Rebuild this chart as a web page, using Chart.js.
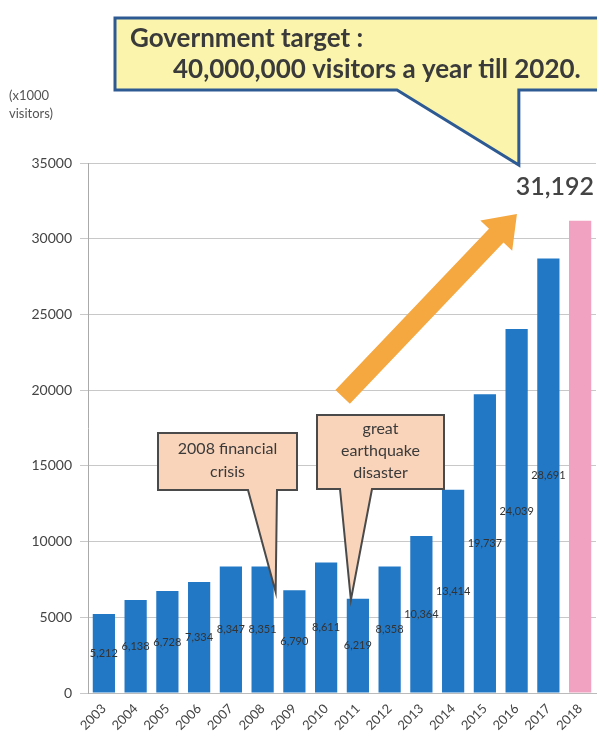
<!DOCTYPE html>
<html>
<head>
<meta charset="utf-8">
<script src="https://cdn.jsdelivr.net/npm/chart.js@4"></script>
<style>
  html, body { margin: 0; padding: 0; background: #fff; }
  #wrap { width: 597px; height: 740px; position: relative; }
</style>
</head>
<body>
<div id="wrap"><canvas id="visitorsChart"></canvas></div>
<script>
  // data (x1000 visitors)
  const years = ['2003', '2004', '2005', '2006', '2007', '2008', '2009', '2010',
                 '2011', '2012', '2013', '2014', '2015', '2016', '2017', '2018'];
  const visitors = [5212, 6138, 6728, 7334, 8347, 8351, 6790, 8611,
                    6219, 8358, 10364, 13414, 19737, 24039, 28691, 31192];
  const barColors = years.map((y, i) => i === years.length - 1 ? '#F0A2C0' : '#2378C5');
  const yTicks = [0, 5000, 10000, 15000, 20000, 25000, 30000, 35000];

  const FONT = 'Lato, "Open Sans", sans-serif';

  // callouts: box in pixels, tail tip in data units (category index, value)
  const callouts = [
    { lines: ['2008 financial', 'crisis'], box: [158, 433, 297, 490], tail: [248, 277], tip: [5.41, 6670], lh: 23 },
    { lines: ['great', 'earthquake', 'disaster'], box: [317, 415, 444, 489], tail: [340, 372], tip: [7.78, 6140], lh: 22 }
  ];

  function drawCallout(ctx, c, xs, ys) {
    const [l, t, r, b] = c.box;
    const tx = xs.getPixelForValue(c.tip[0]);
    const ty = ys.getPixelForValue(c.tip[1]);
    ctx.beginPath();
    ctx.moveTo(l, t);
    ctx.lineTo(r, t);
    ctx.lineTo(r, b);
    ctx.lineTo(c.tail[1], b);
    ctx.lineTo(tx, ty);
    ctx.lineTo(c.tail[0], b);
    ctx.lineTo(l, b);
    ctx.closePath();
    ctx.fillStyle = '#F9D4BA';
    ctx.fill();
    ctx.lineWidth = 2;
    ctx.strokeStyle = '#4a4a4a';
    ctx.stroke();
    ctx.fillStyle = '#3a3a3a';
    ctx.font = '16px ' + FONT;
    ctx.textAlign = 'center';
    ctx.textBaseline = 'middle';
    const cy = (t + b) / 2 - 1;
    c.lines.forEach((s, i) => {
      ctx.fillText(s, (l + r) / 2, cy + (i - (c.lines.length - 1) / 2) * c.lh);
    });
  }

  const decorations = {
    id: 'decorations',
    afterDatasetsDraw(chart) {
      const ctx = chart.ctx;
      const xs = chart.scales.x;
      const ys = chart.scales.y;
      const meta = chart.getDatasetMeta(0);
      ctx.save();

      // value labels inside the bars, at half height
      ctx.font = '11px ' + FONT;
      ctx.fillStyle = '#333';
      ctx.textAlign = 'center';
      ctx.textBaseline = 'middle';
      meta.data.forEach((bar, i) => {
        if (i === visitors.length - 1) return;
        ctx.fillText(visitors[i].toLocaleString('en-US'), bar.x, ys.getPixelForValue(visitors[i] / 2));
      });

      // last year value above the pink bar
      const n = visitors.length - 1;
      const last = meta.data[n];
      ctx.font = '600 25px ' + FONT;
      ctx.fillStyle = '#444';
      ctx.textAlign = 'right';
      ctx.fillText(visitors[n].toLocaleString('en-US'), last.x + 14, ys.getPixelForValue(visitors[n]) - 34);

      // y axis unit
      ctx.font = '13px ' + FONT;
      ctx.fillStyle = '#555';
      ctx.textAlign = 'left';
      ctx.fillText('(x1000', 9, 96);
      ctx.fillText('visitors)', 9, 114);

      // orange trend arrow
      const ax0 = xs.getPixelForValue(7.52), ay0 = ys.getPixelForValue(19550);
      const ax1 = xs.getPixelForValue(13.01), ay1 = ys.getPixelForValue(31640);
      const ang = Math.atan2(ay1 - ay0, ax1 - ax0);
      const len = Math.hypot(ax1 - ax0, ay1 - ay0);
      ctx.save();
      ctx.translate(ax0, ay0);
      ctx.rotate(ang);
      ctx.beginPath();
      ctx.moveTo(0, -10);
      ctx.lineTo(len - 30, -10);
      ctx.lineTo(len - 30, -22);
      ctx.lineTo(len, 0);
      ctx.lineTo(len - 30, 22);
      ctx.lineTo(len - 30, 10);
      ctx.lineTo(0, 10);
      ctx.closePath();
      ctx.fillStyle = '#F5A740';
      ctx.fill();
      ctx.restore();

      callouts.forEach(c => drawCallout(ctx, c, xs, ys));

      // government target callout
      const gx = xs.getPixelForValue(13.07), gy = ys.getPixelForValue(34870);
      ctx.beginPath();
      ctx.moveTo(115, 18);
      ctx.lineTo(610, 18);
      ctx.lineTo(610, 90);
      ctx.lineTo(gx, 90);
      ctx.lineTo(gx, gy);
      ctx.lineTo(397, 90);
      ctx.lineTo(115, 90);
      ctx.closePath();
      ctx.fillStyle = '#FAF4AC';
      ctx.fill();
      ctx.lineWidth = 3;
      ctx.strokeStyle = '#2E5A94';
      ctx.stroke();
      ctx.fillStyle = '#3a3a3a';
      ctx.font = 'bold 26px ' + FONT;
      ctx.textAlign = 'left';
      ctx.fillText('Government target :', 130, 39);
      ctx.fillText('40,000,000 visitors a year till 2020.', 173, 70);

      ctx.restore();
    }
  };

  const ctx = document.getElementById('visitorsChart').getContext('2d');
  const visitorsChart = new Chart(ctx, {
    type: 'bar',
    data: {
      labels: years,
      datasets: [{
        data: visitors,
        backgroundColor: barColors,
        borderWidth: 0,
        barPercentage: 0.7,
        categoryPercentage: 1.0
      }]
    },
    options: {
      responsive: true,
      maintainAspectRatio: false,
      animation: false,
      layout: { padding: { top: 163, right: 1, left: 0, bottom: 0 } },
      plugins: {
        legend: { display: false },
        tooltip: { enabled: false }
      },
      scales: {
        x: {
          grid: { display: false },
          border: { color: '#bbb' },
          ticks: {
            color: '#444',
            font: { family: FONT, size: 13 },
            maxRotation: 45,
            minRotation: 45,
            padding: 0
          },
          afterFit(scale) { scale.height = 47; }
        },
        y: {
          min: 0,
          max: 35000,
          afterBuildTicks(scale) { scale.ticks = yTicks.map(v => ({ value: v })); },
          grid: { color: '#c8c8c8', tickLength: 8 },
          border: { color: '#aaa' },
          ticks: {
            color: '#444',
            font: { family: FONT, size: 14 },
            padding: 8,
            callback: v => String(v)
          },
          afterFit(scale) { scale.width = 88; }
        }
      }
    },
    plugins: [decorations]
  });
</script>
</body>
</html>
